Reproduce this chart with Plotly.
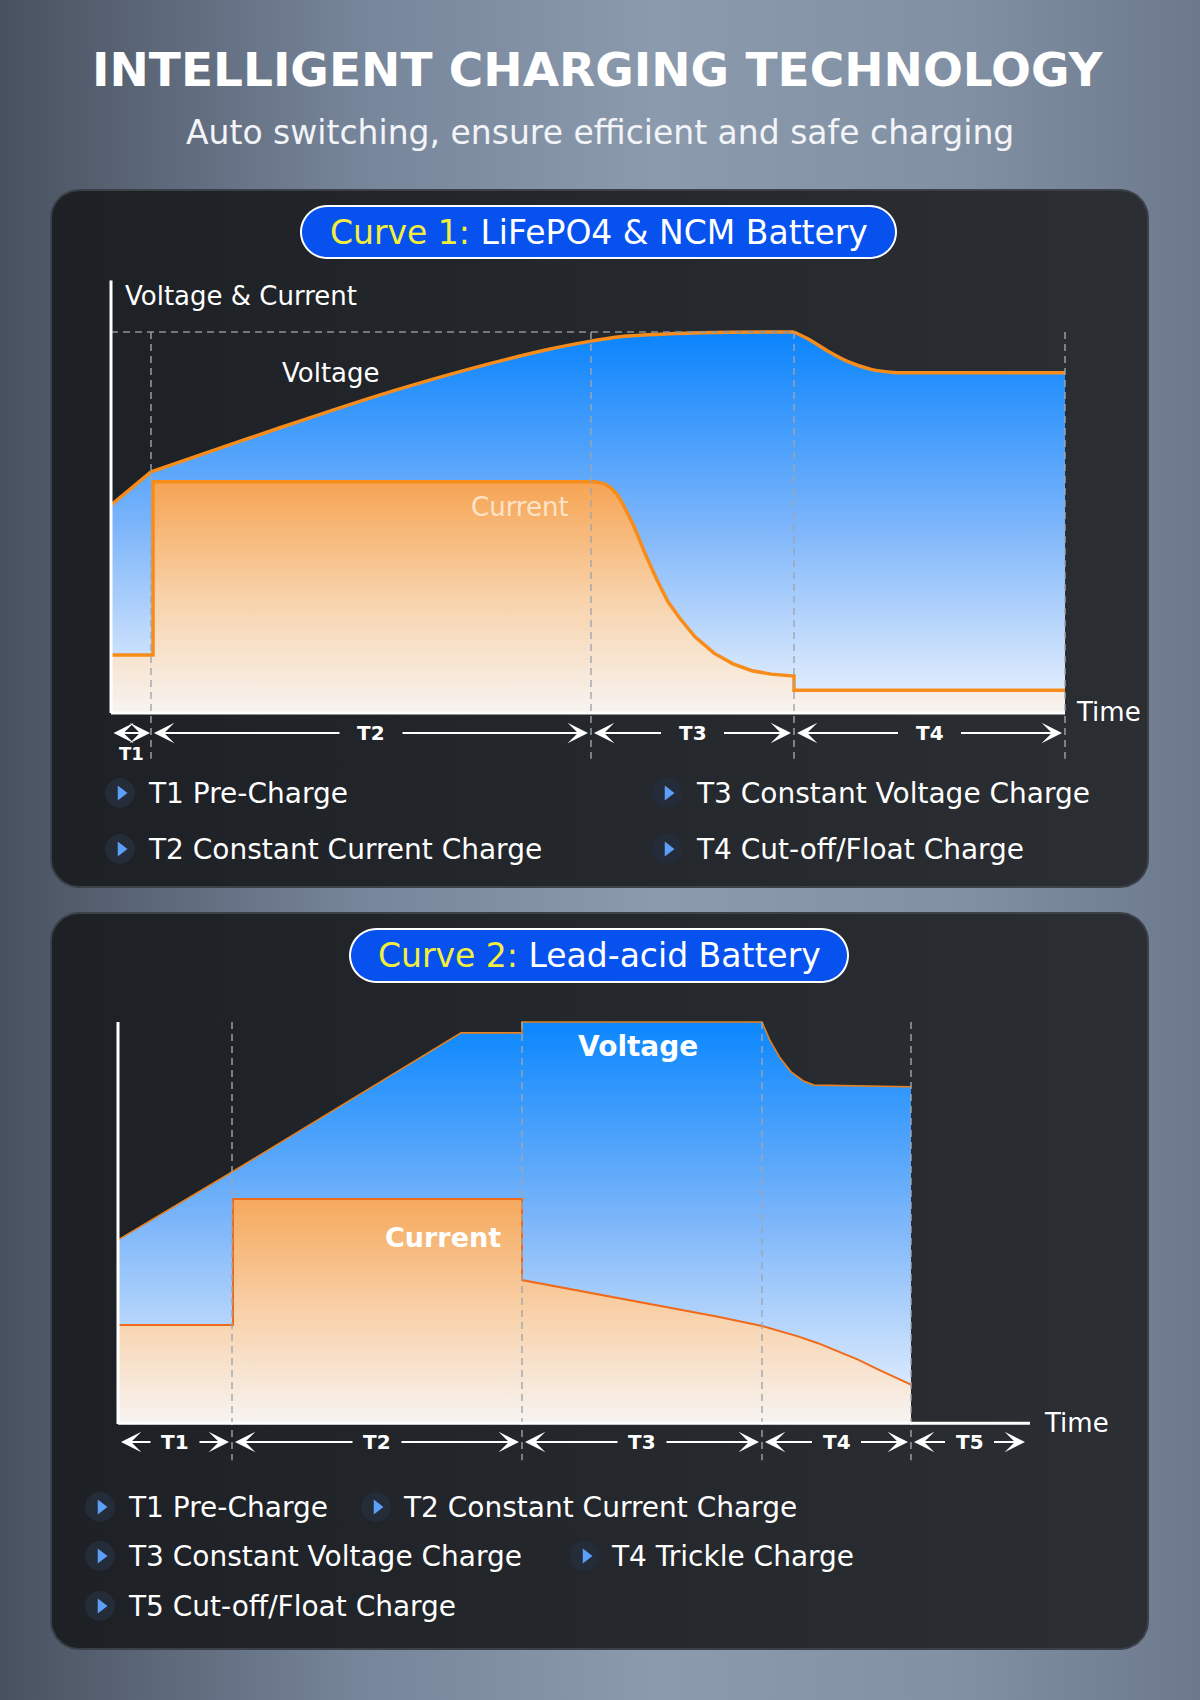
import numpy as np
import plotly.graph_objects as go

W, H = 1200, 1700
FONT = "DejaVu Sans"

# ---------------- DATA ----------------
# Curve 1: LiFePO4 & NCM Battery (time units arbitrary, level 0-100)
c1_phase_bounds = [0, 4.0, 48.0, 68.3, 95.4]
c1_phase_labels = ["T1", "T2", "T3", "T4"]
c1_volt_t = [0, 4.0, 13.0, 20.7, 28.3, 36.0, 43.7, 48.0, 50.7, 56.5, 62.0, 68.3,
             69.9, 71.8, 73.7, 76.0, 78.3, 82.0, 95.4]
c1_volt_v = [54.6, 63.3, 71.4, 78.2, 84.6, 90.4, 95.4, 97.6, 98.7, 99.6, 99.95, 100.0,
             97.9, 94.8, 92.2, 90.2, 89.4, 89.3, 89.3]
c1_curr_t = [0, 4.2, 4.2, 48.4, 49.3, 50.0, 50.6, 51.1, 52.3, 53.4, 54.6, 55.7, 56.9, 58.4,
             60.3, 62.2, 64.1, 66.0, 68.3, 68.3, 95.4]
c1_curr_v = [15.2, 15.2, 60.7, 60.7, 60.2, 59.1, 57.4, 55.3, 49.0, 41.9, 34.9, 29.2, 24.8, 20.0,
             15.7, 12.9, 11.1, 10.2, 9.7, 6.0, 6.0]
c1_legend = ["T1 Pre-Charge", "T2 Constant Current Charge",
             "T3 Constant Voltage Charge", "T4 Cut-off/Float Charge"]

# Curve 2: Lead-acid Battery
c2_phase_bounds = [0, 11.4, 40.4, 64.4, 79.3, 91.0]
c2_phase_labels = ["T1", "T2", "T3", "T4", "T5"]
c2_volt_t = [0, 11.4, 34.3, 40.4, 40.4, 64.4, 65.2, 66.2, 67.3, 68.5, 69.6, 79.3]
c2_volt_v = [45.8, 62.7, 97.3, 97.3, 100.0, 100.0, 95.4, 91.1, 87.6, 85.4, 84.3, 83.9]
c2_curr_t = [0, 11.5, 11.5, 40.4, 40.4, 45.0, 50.0, 55.0, 60.0, 64.4, 68.0,
             70.0, 72.0, 74.0, 76.0, 79.3]
c2_curr_v = [24.6, 24.6, 56.0, 56.0, 35.8, 33.7, 31.4, 29.1, 26.7, 24.4, 21.8,
             20.1, 18.1, 16.0, 13.6, 9.8]
c2_legend = ["T1 Pre-Charge", "T2 Constant Current Charge",
             "T3 Constant Voltage Charge", "T4 Trickle Charge",
             "T5 Cut-off/Float Charge"]

# ---------------- helpers ----------------
def dom_x(p0, p1):
    return [p0 / W, p1 / W]

def dom_y(p_bottom, p_top):
    return [1 - p_bottom / H, 1 - p_top / H]

def rrect_pts(x0, y0, x1, y1, r, n=14):
    xs, ys = [], []
    for cx, cy, a0 in [(x1 - r, y0 + r, -90), (x1 - r, y1 - r, 0),
                       (x0 + r, y1 - r, 90), (x0 + r, y0 + r, 180)]:
        for k in range(n + 1):
            a = np.radians(a0 + 90 * k / n)
            xs.append(cx + r * np.cos(a))
            ys.append(cy + r * np.sin(a))
    xs.append(xs[0]); ys.append(ys[0])
    return xs, ys

def rrect_path(x0, y0, x1, y1, r):
    xs, ys = rrect_pts(x0, y0, x1, y1, r)
    return "M " + " L ".join(f"{a:.2f},{b:.2f}" for a, b in zip(xs, ys)) + " Z"

fig = go.Figure()

# ---------------- background (pixel subplot x/y) ----------------
fig.add_trace(go.Scatter(
    x=[0, W, W, 0, 0], y=[0, 0, H, H, 0], fill="toself", mode="none",
    fillgradient=dict(type="horizontal", start=0, stop=W,
                      colorscale=[[0, "#48515f"], [0.3, "#77859a"], [0.55, "#8c9aae"],
                                  [0.8, "#8290a3"], [1, "#6c798c"]]),
    hoverinfo="skip", showlegend=False, xaxis="x", yaxis="y"))

for (py0, py1) in [(190, 887), (913, 1649)]:
    xs, ys = rrect_pts(51, py0, 1148, py1, 28)
    fig.add_trace(go.Scatter(
        x=xs, y=ys, fill="toself", mode="lines",
        line=dict(color="#3b4049", width=2),
        fillgradient=dict(type="horizontal", start=51, stop=1148,
                          colorscale=[[0, "#1d2025"], [0.5, "#24272c"], [1, "#2b2e33"]]),
        hoverinfo="skip", showlegend=False, xaxis="x", yaxis="y"))

# legend bullets (icon positions)
icons_c1 = [(120, 793), (120, 849), (667, 793), (667, 849)]
text_c1 = [(146, 793), (146, 849), (694, 793), (694, 849)]
icons_c2 = [(100, 1507), (376, 1507), (100, 1556), (585, 1556), (100, 1606)]
text_c2 = [(126, 1507), (401, 1507), (126, 1556), (609, 1556), (126, 1606)]
ix = [p[0] for p in icons_c1 + icons_c2]
iy = [p[1] for p in icons_c1 + icons_c2]
fig.add_trace(go.Scatter(x=ix, y=iy, mode="markers",
                         marker=dict(symbol="circle", size=30, color="#242c39"),
                         hoverinfo="skip", showlegend=False, xaxis="x", yaxis="y"))
fig.add_trace(go.Scatter(x=[v + 1 for v in ix], y=iy, mode="markers",
                         marker=dict(symbol="triangle-right", size=13, color="#5c9ef8"),
                         hoverinfo="skip", showlegend=False, xaxis="x", yaxis="y"))

# ---------------- Chart 1 (x2/y2) ----------------
v_grad1 = dict(type="vertical", start=0, stop=100,
               colorscale=[[0, "#eef4fd"], [0.5, "#7ab4fa"], [1, "#0a84fd"]])
i_grad1 = dict(type="vertical", start=0, stop=60.7,
               colorscale=[[0, "#f7f4f1"], [0.5, "#f8d2aa"], [1, "#f6a453"]])
# voltage drawn per phase group so the corners at T1 end and T4 start stay sharp
seg_edges = [c1_phase_bounds[0], c1_phase_bounds[1], c1_phase_bounds[3], c1_phase_bounds[4]]
for a, b_ in zip(seg_edges[:-1], seg_edges[1:]):
    st = [t for t in c1_volt_t if a <= t <= b_]
    sv = [v for t, v in zip(c1_volt_t, c1_volt_v) if a <= t <= b_]
    fig.add_trace(go.Scatter(x=st, y=sv, fill="tozeroy", mode="lines",
                             line=dict(color="#f78c1a", width=3.5, shape="spline",
                                       smoothing=0.8),
                             fillgradient=v_grad1,
                             hoverinfo="skip", showlegend=False, xaxis="x2", yaxis="y2"))
fig.add_trace(go.Scatter(x=c1_curr_t, y=c1_curr_v, fill="tozeroy", mode="lines",
                         line=dict(color="#f78c1a", width=3.5), fillgradient=i_grad1,
                         hoverinfo="skip", showlegend=False, xaxis="x2", yaxis="y2"))

# ---------------- Chart 2 (x3/y3) ----------------
v_grad2 = dict(type="vertical", start=0, stop=100,
               colorscale=[[0, "#eff5fe"], [0.5, "#7db6fa"], [1, "#0b87fd"]])
i_grad2 = dict(type="vertical", start=0, stop=56,
               colorscale=[[0, "#f7f4f2"], [0.5, "#f8d1a9"], [1, "#f5a95c"]])
fig.add_trace(go.Scatter(x=c2_volt_t, y=c2_volt_v, fill="tozeroy", mode="lines",
                         line=dict(color="#e5801f", width=1.6), fillgradient=v_grad2,
                         hoverinfo="skip", showlegend=False, xaxis="x3", yaxis="y3"))
fig.add_trace(go.Scatter(x=c2_curr_t, y=c2_curr_v, fill="tozeroy", mode="lines",
                         line=dict(color="#f06a1b", width=2), fillgradient=i_grad2,
                         hoverinfo="skip", showlegend=False, xaxis="x3", yaxis="y3"))

shapes = []
annotations = []

# badges
for (x0, y0, x1, y1) in [(301, 206, 896, 258), (350, 929, 848, 982)]:
    shapes.append(dict(type="path", xref="x", yref="y", layer="above",
                       path=rrect_path(x0, y0, x1, y1, (y1 - y0) / 2),
                       fillcolor="#0752ef", line=dict(color="white", width=2)))

dash_col = "#a0a5ae"
# Chart 1 guides
shapes.append(dict(type="line", xref="x2", yref="y2", x0=0, x1=c1_phase_bounds[3],
                   y0=100, y1=100, layer="above",
                   line=dict(color="#8d929b", width=1.6, dash="7px,5px")))
for b in c1_phase_bounds[1:]:
    shapes.append(dict(type="line", xref="x2", yref="y2", x0=b, x1=b, y0=100, y1=-12,
                       layer="above", line=dict(color=dash_col, width=1.4, dash="7px,5px")))
shapes.append(dict(type="line", xref="x2", yref="y2", x0=0, x1=0, y0=0, y1=113.6,
                   layer="above", line=dict(color="white", width=3)))
shapes.append(dict(type="line", xref="x2", yref="y2", x0=0, x1=c1_phase_bounds[-1],
                   y0=0, y1=0, layer="above", line=dict(color="white", width=3)))

# Chart 2 guides
for b in c2_phase_bounds[1:-1]:
    shapes.append(dict(type="line", xref="x3", yref="y3", x0=b, x1=b, y0=100, y1=-9,
                       layer="above", line=dict(color=dash_col, width=1.4, dash="7px,5px")))
shapes.append(dict(type="line", xref="x3", yref="y3", x0=0, x1=0, y0=0, y1=100,
                   layer="above", line=dict(color="white", width=3)))
shapes.append(dict(type="line", xref="x3", yref="y3", x0=0, x1=c2_phase_bounds[-1] + 0.2,
                   y0=0.2, y1=0.2, layer="above", line=dict(color="white", width=3)))

def arrow(xr, yr, x_from, x_to, y, both=False):
    annotations.append(dict(x=x_to, y=y, ax=x_from, ay=y, xref=xr, yref=yr,
                            axref=xr, ayref=yr, text="", showarrow=True,
                            arrowhead=3, arrowsize=1.7, arrowwidth=2,
                            arrowcolor="white", standoff=0, startstandoff=0,
                            arrowside="end+start" if both else "end",
                            startarrowhead=3, startarrowsize=1.7))

def txt(x, y, s, size, xr="x", yr="y", color="white", weight="normal", xanchor="center"):
    annotations.append(dict(x=x, y=y, xref=xr, yref=yr, text=s, showarrow=False,
                            xanchor=xanchor, yanchor="middle",
                            font=dict(family=FONT, size=size, color=color, weight=weight)))

# Chart 1 time arrows
ay1 = -5.25
b = c1_phase_bounds
arrow("x2", "y2", b[0] + 0.1, b[1] - 0.1, ay1, both=True)
txt((b[0] + b[1]) / 2, -10.5, c1_phase_labels[0], 18, "x2", "y2", weight="bold")
for k in range(1, len(b) - 1):
    mid = (b[k] + b[k + 1]) / 2
    arrow("x2", "y2", mid - 3.0, b[k] + 0.3, ay1)
    arrow("x2", "y2", mid + 3.0, b[k + 1] - 0.3, ay1)
    txt(mid, ay1, c1_phase_labels[k], 20, "x2", "y2", weight="bold")

# Chart 2 time arrows
ay2 = -4.48
b = c2_phase_bounds
for k in range(len(b) - 1):
    mid = (b[k] + b[k + 1]) / 2
    arrow("x3", "y3", mid - 2.3, b[k] + 0.3, ay2)
    arrow("x3", "y3", mid + 2.3, b[k + 1] - 0.3, ay2)
    txt(mid, ay2, c2_phase_labels[k], 20, "x3", "y3", weight="bold")

# Chart 1 labels
txt(1.2, 109.4, "Voltage &amp; Current", 26, "x2", "y2", xanchor="left")
txt(22.0, 89.2, "Voltage", 26, "x2", "y2")
txt(40.9, 54.1, "Current", 26, "x2", "y2", color="#fde4c8")
txt(96.3, 0.3, "Time", 26, "x2", "y2", xanchor="left")

# Chart 2 labels
txt(52.0, 94.0, "Voltage", 28, "x3", "y3", weight="bold")
txt(32.5, 46.5, "Current", 27, "x3", "y3", weight="bold")
txt(92.4, 0.3, "Time", 26, "x3", "y3", xanchor="left")

# headings
txt(598, 69, "INTELLIGENT CHARGING TECHNOLOGY", 47, weight="bold")
txt(600, 132, "Auto switching, ensure efficient and safe charging", 33,
    color="#f2f4f7")
txt(599, 232, "<span style='color:#f3ee3c'>Curve 1:</span> LiFePO4 &amp; NCM Battery", 33)
txt(599, 955, "<span style='color:#f3ee3c'>Curve 2:</span> Lead-acid Battery", 33)

# legends
for (x, y), s in zip(text_c1, c1_legend):
    txt(x, y, s, 28, xanchor="left")
for (x, y), s in zip(text_c2, c2_legend):
    txt(x, y, s, 28, xanchor="left")

ax_hidden = dict(visible=False, fixedrange=True, showgrid=False, zeroline=False)
fig.update_layout(
    width=W, height=H, margin=dict(l=0, r=0, t=0, b=0),
    paper_bgcolor="#6f7c8f", plot_bgcolor="rgba(0,0,0,0)",
    showlegend=False, shapes=shapes, annotations=annotations,
    xaxis=dict(ax_hidden, domain=[0, 1], range=[0, W]),
    yaxis=dict(ax_hidden, domain=[0, 1], range=[H, 0]),
    xaxis2=dict(ax_hidden, domain=dom_x(91, 1111), range=[-2, 100], anchor="y2"),
    yaxis2=dict(ax_hidden, domain=dom_y(713 + 15 * 3.81, 713 - 113.6 * 3.81),
                range=[-15, 113.6], anchor="x2"),
    xaxis3=dict(ax_hidden, domain=dom_x(98, 1118), range=[-2, 100], anchor="y3"),
    yaxis3=dict(ax_hidden, domain=dom_y(1424 + 12 * 4.02, 1424 - 102 * 4.02),
                range=[-12, 102], anchor="x3"),
)

fig.write_html("out.html", config={"displayModeBar": False},
               post_script="document.body.style.margin='0px';")
